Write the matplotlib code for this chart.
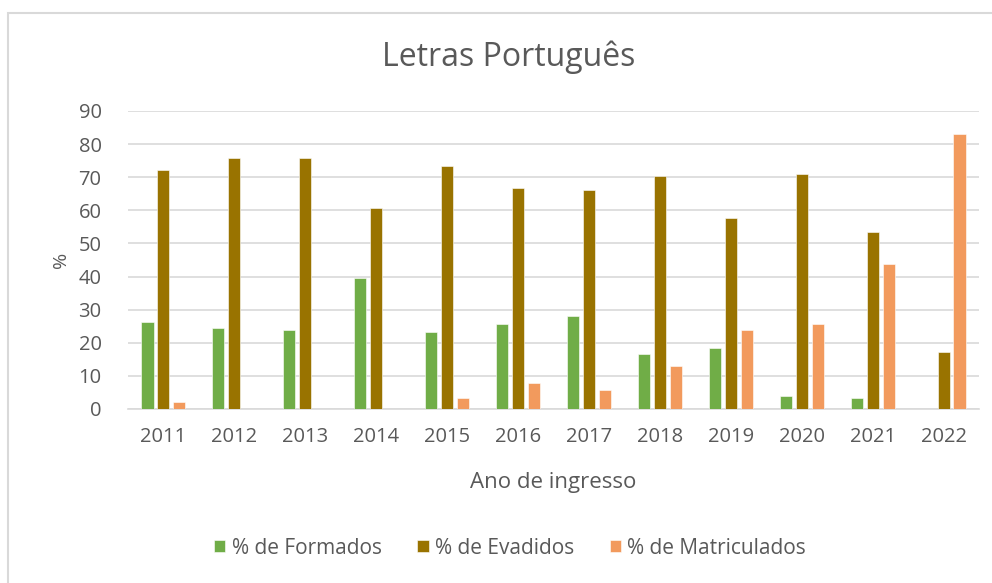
import numpy as np
import matplotlib.pyplot as plt
from matplotlib.patches import Rectangle

plt.rcParams['font.family'] = ['Open Sans', 'DejaVu Sans']

anos = ['2011', '2012', '2013', '2014', '2015', '2016',
        '2017', '2018', '2019', '2020', '2021', '2022']
formados = [26.2, 24.4, 23.8, 39.5, 23.2, 25.6, 28.0, 16.5, 18.3, 3.9, 3.2, 0]
evadidos = [72.1, 75.7, 75.7, 60.6, 73.3, 66.7, 66.1, 70.3, 57.6, 70.9, 53.4, 17.1]
matriculados = [2.0, 0, 0, 0, 3.2, 8.0, 5.6, 12.9, 23.8, 25.6, 43.7, 83.0]

series = [
    ('% de Formados', formados, '#70AD47'),
    ('% de Evadidos', evadidos, '#997300'),
    ('% de Matriculados', matriculados, '#F29A5D'),
]

W, H = 992, 583
fig = plt.figure(figsize=(W / 100, H / 100), dpi=100)
ax = fig.add_axes([128 / W, 1 - 409 / H, (979 - 128) / W, (409 - 111) / H])

# outer chart border (cut off on right and bottom like the screenshot)
fig.patches.append(Rectangle((8 / W, -0.1), 1.2, 1 - 13 / H + 0.1,
                             transform=fig.transFigure, fill=False,
                             edgecolor='#D9D9D9', linewidth=1.5))

text_color = '#595959'
x = np.arange(len(anos))
width = 0.17
offsets = [-0.225, 0, 0.225]
for (label, vals, color), off in zip(series, offsets):
    ax.bar(x + off, vals, width, color=color, label=label,
           edgecolor='white', linewidth=0.4, zorder=3)

ax.set_xlim(-0.5, len(anos) - 0.5)
ax.set_ylim(0, 90)
ax.set_yticks(range(0, 91, 10))
ax.set_xticks(x)
ax.set_xticklabels(anos)
ax.grid(axis='y', color='#D9D9D9', linewidth=1.2, zorder=0)
for side in ['top', 'right', 'left']:
    ax.spines[side].set_visible(False)
ax.spines['bottom'].set_color('#D9D9D9')
ax.spines['bottom'].set_linewidth(1.2)
ax.tick_params(length=0, colors=text_color, labelsize=14.5)
ax.tick_params(axis='y', pad=19)
ax.tick_params(axis='x', pad=13)

ax.set_xlabel('Ano de ingresso', color=text_color, fontsize=16, labelpad=18)
ax.set_ylabel('%', color=text_color, fontsize=14, labelpad=6)
fig.text(509 / W, 1 - 57 / H, 'Letras Português', ha='center', va='center',
         color=text_color, fontsize=23)

fig.legend(loc='center', bbox_to_anchor=(510 / W, 1 - 548 / H), ncol=3,
           frameon=False, fontsize=15, labelcolor=text_color,
           handlelength=0.55, handleheight=0.55, handletextpad=0.3,
           columnspacing=1.7)

fig.savefig('out.png', dpi=100)
